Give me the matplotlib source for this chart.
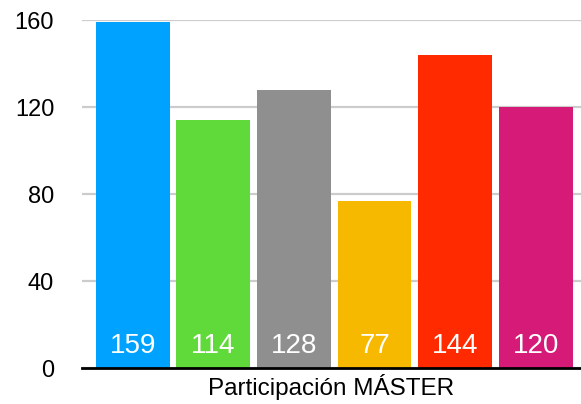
import matplotlib
matplotlib.use("Agg")
import matplotlib.pyplot as plt

categories = ["A", "B", "C", "D", "E", "F"]
values = [159, 114, 128, 77, 144, 120]
colors = ["#00A2FF", "#60D93A", "#8F8F8F", "#F7B800", "#FF2A00", "#D61A78"]
yticks = [0, 40, 80, 120, 160]
xlabel = "Participación MÁSTER"

plt.rcParams['font.family'] = ['Liberation Sans', 'DejaVu Sans']
fig = plt.figure(figsize=(5.81, 4.04), dpi=100)
ax = fig.add_axes([0.141, 0.089, 0.859, 0.861])
x = list(range(len(values)))
ax.bar(x, values, width=0.915, color=colors, zorder=3)
for xi, v in zip(x, values):
    ax.text(xi, 10, str(v), ha='center', va='center', color='white', fontsize=20, zorder=4)
ax.set_xlim(-0.63, 5.56)
ax.set_ylim(0, 160)
ax.set_yticks(yticks)
ax.set_yticklabels([str(t) for t in yticks], fontsize=17)
ax.yaxis.grid(True, color='#CCCCCC', linewidth=1.6, zorder=0)
ax.set_xticks([])
for s in ['top', 'right', 'left']:
    ax.spines[s].set_visible(False)
ax.spines['bottom'].set_linewidth(2)
ax.spines['bottom'].set_zorder(5)
ax.tick_params(axis='y', length=0, pad=20)
ax.set_xlabel(xlabel, fontsize=17.5, labelpad=4)
fig.savefig("out.png", dpi=100)
